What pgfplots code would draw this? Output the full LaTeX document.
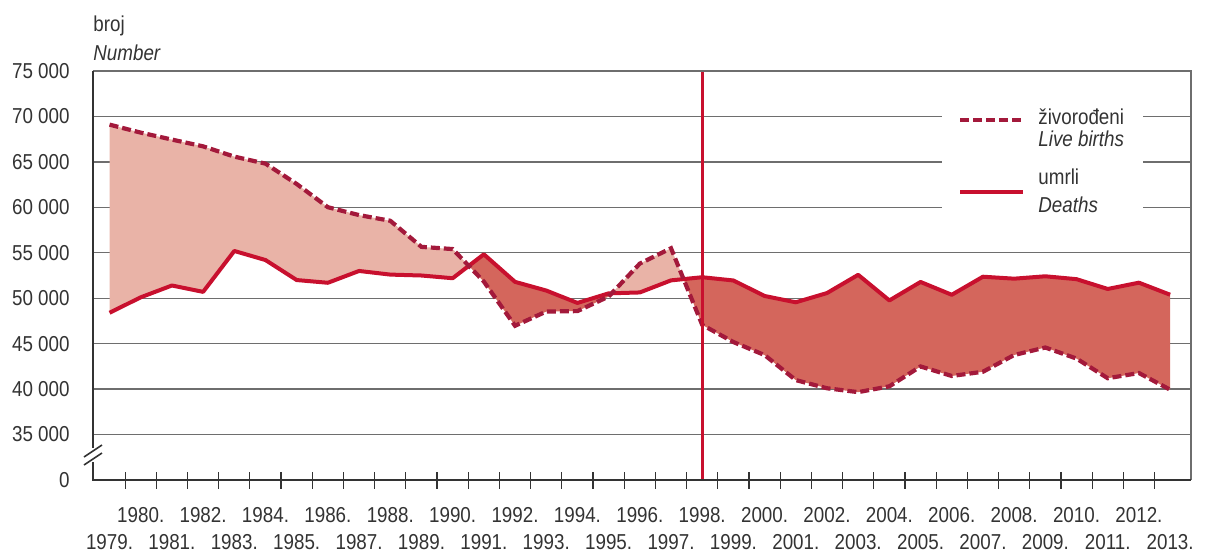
\documentclass[border=0pt]{standalone}
\usepackage{fontspec}
\setmainfont{Liberation Sans}[FakeStretch=0.87]
\usepackage{pgfplots}
\usepackage{pgfplotstable}
\pgfplotsset{compat=1.18}
\usepgfplotslibrary{fillbetween}

\definecolor{lightfill}{HTML}{E9B3A7}
\definecolor{darkfill}{HTML}{D4665C}
\definecolor{linered}{HTML}{C8102E}
\definecolor{dashred}{HTML}{A3193B}
\definecolor{gridgray}{HTML}{6E6E6E}
\definecolor{axisdark}{HTML}{333333}

% zivorodeni / umrli, 1979-2013
\pgfplotstableread{
year births deaths
1979 69100 48400
1980 68220 50100
1981 67455 51400
1982 66711 50700
1983 65580 55200
1984 64810 54200
1985 62569 52000
1986 60013 51700
1987 59146 53000
1988 58524 52600
1989 55651 52500
1990 55409 52200
1991 51829 54832
1992 46970 51800
1993 48535 50846
1994 48584 49482
1995 50182 50536
1996 53811 50636
1997 55501 51964
1998 47068 52311
1999 45179 51953
2000 43746 50246
2001 40993 49552
2002 40094 50569
2003 39668 52575
2004 40307 49756
2005 42492 51790
2006 41446 50378
2007 41910 52367
2008 43753 52151
2009 44577 52414
2010 43361 52096
2011 41197 51019
2012 41771 51710
2013 39939 50386
}\vitals

\begin{document}
\begin{tikzpicture}[font=\fontsize{10.8}{12}\selectfont]
\begin{axis}[
    scale only axis,
    width=549pt, height=204.5pt,
    xmin=1978.47, xmax=2013.67,
    ymin=30000, ymax=75000,
    axis line style={draw=none},
    scaled y ticks=false,
    tick pos=left,
    /pgf/number format/assume math mode=true,
    ytick={30000,35000,...,75000},
    yticklabels={0,35 000,40 000,45 000,50 000,55 000,60 000,65 000,70 000,75 000},
    ymajorgrids,
    grid style={gridgray, line width=0.7pt},
    xtick={1980,1982,...,2012},
    xticklabels={1980.,1982.,1984.,1986.,1988.,1990.,1992.,1994.,1996.,1998.,2000.,2002.,2004.,2006.,2008.,2010.,2012.},
    extra x ticks={1979,1981,...,2013},
    extra x tick labels={1979.,1981.,1983.,1985.,1987.,1989.,1991.,1993.,1995.,1997.,1999.,2001.,2003.,2005.,2007.,2009.,2011.,2013.},
    extra x tick style={xticklabel style={yshift=-13.6pt}},
    minor xtick={1979.5,1980.5,...,2012.5},
    major tick length=0pt,
    minor tick length=8.5pt,
    tick align=center,
    minor tick style={axisdark, line width=0.6pt},
    xticklabel style={anchor=center, inner sep=0pt, yshift=-17.3pt, text=axisdark},
    yticklabel style={anchor=east, inner sep=0pt, xshift=-11.5pt, text=axisdark},
]
\addplot[draw=none, name path=births] table[x=year, y=births] {\vitals};
\addplot[draw=none, name path=deaths] table[x=year, y=deaths] {\vitals};

\addplot[lightfill] fill between[of=births and deaths, soft clip={domain=1978:1990.52}];
\addplot[darkfill] fill between[of=births and deaths, soft clip={domain=1990.52:1995.10}];
\addplot[lightfill] fill between[of=births and deaths, soft clip={domain=1995.10:1997.40}];
\addplot[darkfill] fill between[of=births and deaths, soft clip={domain=1997.40:2014}];

\addplot[linered, line width=2pt, line join=round] table[x=year, y=deaths] {\vitals};
\addplot[dashred, line width=2.1pt, dash pattern=on 4.5pt off 2pt] table[x=year, y=births] {\vitals};

\draw[linered, line width=1.5pt] (axis cs:1998,30000) -- (axis cs:1998,75000);
\end{axis}

% frame: light top/right, dark left/bottom with break
\draw[gridgray, line width=0.7pt] (0,204.5pt) -- (549pt,204.5pt) -- (549pt,0);
\draw[axisdark, line width=1pt] (0,204.5pt) -- (0,16pt);
\draw[axisdark, line width=1pt] (0,9pt) -- (0,0) -- (549pt,0);
\draw[axisdark, line width=0.8pt] (-4.5pt,11.5pt) -- (4.5pt,17.5pt);
\draw[axisdark, line width=0.8pt] (-4.5pt,7.5pt) -- (4.5pt,13.5pt);

% y label
\node[anchor=base west, inner sep=0pt, text=axisdark] at (0,224pt) {broj};
\node[anchor=base west, inner sep=0pt, text=axisdark, font=\fontsize{10.8}{12}\selectfont\itshape] at (0,210pt) {Number};

% legend
\fill[white] (424.5pt,127.5pt) rectangle (525pt,192.5pt);
\draw[dashred, line width=2.1pt, dash pattern=on 4.5pt off 2pt] (433.5pt,180pt) -- (465pt,180pt);
\draw[linered, line width=2pt] (433.5pt,144pt) -- (465pt,144pt);
\node[anchor=base west, inner sep=0pt, text=axisdark] at (472.5pt,178pt) {živorođeni};
\node[anchor=base west, inner sep=0pt, text=axisdark, font=\fontsize{10.8}{12}\selectfont\itshape] at (472.5pt,167pt) {Live births};
\node[anchor=base west, inner sep=0pt, text=axisdark] at (472.5pt,148pt) {umrli};
\node[anchor=base west, inner sep=0pt, text=axisdark, font=\fontsize{10.8}{12}\selectfont\itshape] at (472.5pt,133.6pt) {Deaths};

\pgfresetboundingbox
\path[use as bounding box] (-46.5pt,-36.5pt) rectangle (558.5pt,240pt);
\end{tikzpicture}
\end{document}
